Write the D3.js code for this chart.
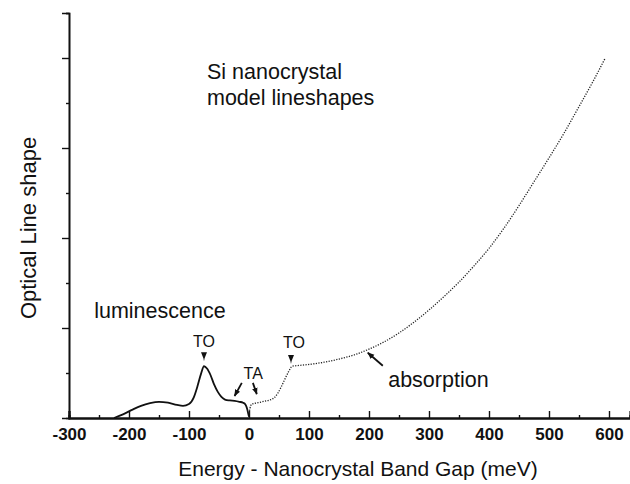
<!DOCTYPE html>
<html>
<head>
<meta charset="utf-8">
<script src="https://cdn.jsdelivr.net/npm/d3@7"></script>
<style>
  html, body { margin: 0; padding: 0; background: #fff; }
  svg { display: block; font-family: "Liberation Sans", Arial, Helvetica, sans-serif; }
</style>
</head>
<body>
<svg id="chart" width="630" height="484"></svg>
<script>
// Luminescence line shape (solid): energy relative to band gap (meV) and intensity
const lumEnergy = [-225, -210, -195, -180, -165, -150, -135, -120, -110, -100, -92, -86, -80, -75, -70, -64, -58, -52, -46, -40, -32, -24, -16, -10, -6, -3, -1, 0];
const lumValue  = [0.00, 0.08, 0.18, 0.27, 0.33, 0.36, 0.34, 0.29, 0.27, 0.31, 0.46, 0.70, 0.98, 1.15, 1.10, 0.95, 0.74, 0.58, 0.47, 0.41, 0.39, 0.38, 0.36, 0.34, 0.30, 0.20, 0.08, 0.03];

// Absorption line shape (dotted)
const absEnergy = [0, 3, 5, 15, 25, 35, 42, 48, 54, 60, 66, 72, 85, 100, 125, 150, 175, 200, 225, 250, 275, 300, 325, 350, 375, 400, 425, 450, 475, 500, 525, 550, 575, 593];
const absValue  = [0.10, 0.28, 0.31, 0.34, 0.37, 0.40, 0.45, 0.55, 0.70, 0.87, 1.03, 1.15, 1.17, 1.19, 1.24, 1.31, 1.40, 1.53, 1.69, 1.89, 2.13, 2.40, 2.70, 3.02, 3.38, 3.77, 4.22, 4.72, 5.25, 5.78, 6.33, 6.92, 7.52, 7.98];

// Axis ticks
const xMajorTicks = [-300, -200, -100, 0, 100, 200, 300, 400, 500, 600];
const xMinorTicks = [-250, -150, -50, 50, 150, 250, 350, 450, 550];
const yMajorTicks = [2, 4, 6, 8];
const yMinorTicks = [1, 3, 5, 7, 9];

const svg = d3.select("#chart");
const x = d3.scaleLinear().domain([-300, 635]).range([69, 630]);
const y = d3.scaleLinear().domain([0, 9]).range([418, 13]);

const ink = "#111";

// Y axis: ticks pointing outward, no labels
const yAxisMajor = d3.axisLeft(y).tickValues(yMajorTicks).tickSize(7).tickFormat("");
const yAxisMinor = d3.axisLeft(y).tickValues(yMinorTicks).tickSize(3).tickFormat("");
const gy = svg.append("g").attr("transform", `translate(${x(-300)},0)`);
gy.call(yAxisMajor);
gy.append("g").call(yAxisMinor);
gy.selectAll(".domain").attr("stroke", ink).attr("stroke-width", 1.6);
gy.selectAll(".tick line").attr("stroke", ink).attr("stroke-width", 1.4);

// X axis: ticks pointing inward (up)
const xAxisMajor = d3.axisBottom(x).tickValues(xMajorTicks).tickSize(-7).tickPadding(10)
  .tickFormat(d => d < 0 ? "-" + Math.abs(d) : String(d));
const xAxisMinor = d3.axisBottom(x).tickValues(xMinorTicks).tickSize(-3).tickFormat("");
const gx = svg.append("g").attr("transform", `translate(0,${y(0)})`);
gx.call(xAxisMajor);
gx.append("g").call(xAxisMinor);
gx.selectAll(".domain").attr("stroke", ink).attr("stroke-width", 2.2);
gx.selectAll(".tick line").attr("stroke", ink).attr("stroke-width", 1.4);
gx.selectAll(".tick text")
  .attr("fill", ink)
  .attr("font-size", 17)
  .attr("font-weight", "bold")
  .attr("font-family", "'Liberation Sans', Arial, sans-serif");

// Line shapes
const line = d3.line().x(d => x(d[0])).y(d => y(d[1])).curve(d3.curveMonotoneX);

svg.append("path")
  .datum(d3.zip(lumEnergy, lumValue))
  .attr("d", line)
  .attr("fill", "none")
  .attr("stroke", ink)
  .attr("stroke-width", 1.8);

svg.append("path")
  .datum(d3.zip(absEnergy, absValue))
  .attr("d", line)
  .attr("fill", "none")
  .attr("stroke", "#222")
  .attr("stroke-width", 1.3)
  .attr("stroke-dasharray", "1.2,1.4");

// Text labels
const label = (txt, px, py, size, anchor) =>
  svg.append("text").attr("x", px).attr("y", py)
    .attr("font-size", size).attr("fill", ink)
    .attr("text-anchor", anchor || "start").text(txt);

label("Si nanocrystal", 207, 79, 21.5);
label("model lineshapes", 207, 105, 21.5);
label("luminescence", x(-258), 318, 21.5);
label("absorption", x(232), 387, 21.5);
label("Energy - Nanocrystal Band Gap (meV)", 358, 476, 21, "middle");
svg.append("text")
  .attr("transform", `translate(36,${228}) rotate(-90)`)
  .attr("text-anchor", "middle")
  .attr("font-size", 22)
  .attr("fill", ink)
  .text("Optical Line shape");

// Phonon replica markers
label("TO", x(-75), 347, 16, "middle");
label("TO", x(75), 348, 16, "middle");
label("TA", x(7), 379, 16, "middle");

// Small downward pointers above the TO features
function pointer(e, v) {
  const px = x(e), tip = y(v);
  svg.append("path")
    .attr("d", `M${px - 3},${tip - 9} L${px + 3},${tip - 9} L${px + 0.6},${tip - 3} L${px},${tip} L${px - 0.6},${tip - 3} Z`)
    .attr("fill", ink);
}
pointer(-75, 1.26);
pointer(70, 1.2);

// Arrows with filled heads
svg.append("defs").append("marker")
  .attr("id", "head")
  .attr("viewBox", "0 0 10 10")
  .attr("refX", 9).attr("refY", 5)
  .attr("markerWidth", 7).attr("markerHeight", 7)
  .attr("markerUnits", "userSpaceOnUse")
  .attr("orient", "auto")
  .append("path").attr("d", "M0,1 L10,5 L0,9 Z").attr("fill", ink);

function arrow(e0, v0, e1, v1) {
  svg.append("line")
    .attr("x1", x(e0)).attr("y1", y(v0))
    .attr("x2", x(e1)).attr("y2", y(v1))
    .attr("stroke", ink).attr("stroke-width", 1.8)
    .attr("marker-end", "url(#head)");
}
arrow(-12, 0.78, -24, 0.49);
arrow(6.5, 0.78, 13, 0.53);
arrow(223, 1.16, 198, 1.45);
</script>
</body>
</html>
